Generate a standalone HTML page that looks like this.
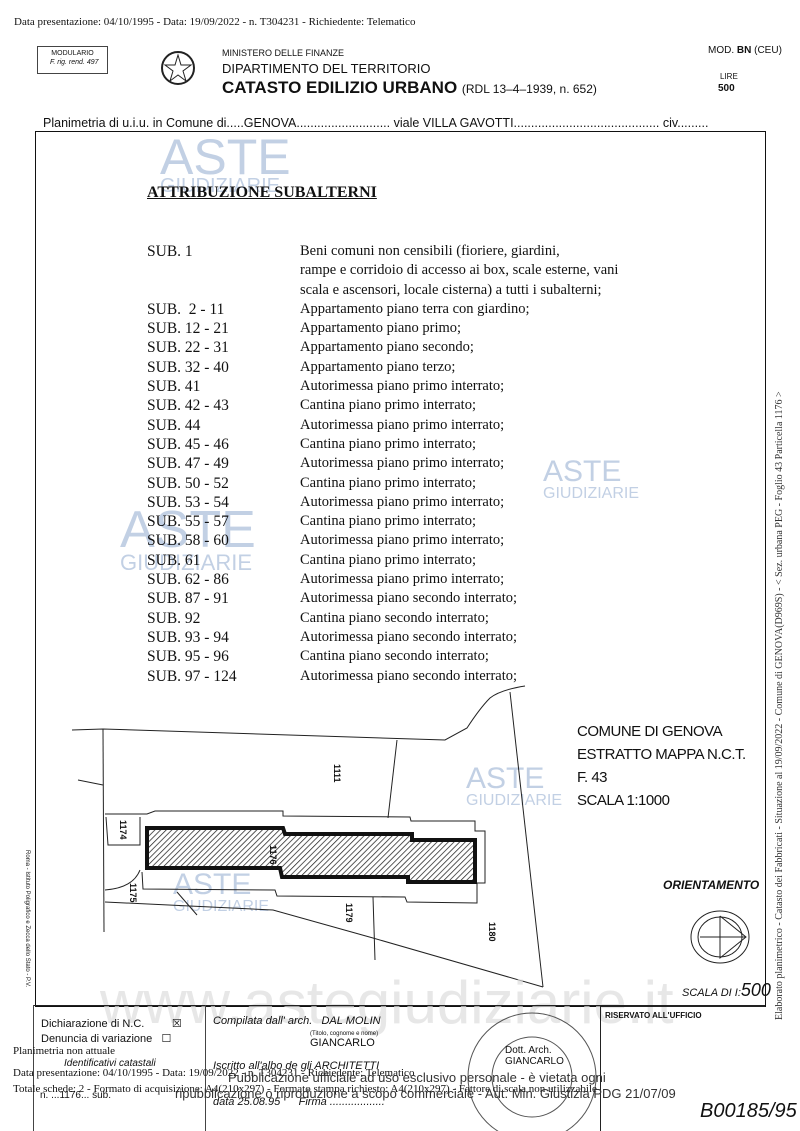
<!DOCTYPE html>
<html><head><meta charset="utf-8"><style>
body{margin:0;width:800px;height:1131px;background:#fff;position:relative;overflow:hidden;font-family:"Liberation Sans",sans-serif;color:#111}
.a{position:absolute;white-space:nowrap}
.s{font-family:"Liberation Serif",serif;font-size:15.5px}
.wm{position:absolute;color:#b8c8e0;font-family:"Liberation Sans",sans-serif;opacity:.85}
.v{position:absolute;font-size:9px;transform:rotate(90deg);transform-origin:0 0;font-weight:bold}
</style></head><body>
<div class="a s" style="left:14px;top:16px;font-size:11px">Data presentazione: 04/10/1995 - Data: 19/09/2022 - n. T304231 - Richiedente: Telematico</div>
<div class="a" style="left:37px;top:46px;width:45px;height:22px;border:1px solid #444;font-size:7px;text-align:center;line-height:9px;padding:2px 12px">MODULARIO<br><i>F. rig. rend. 497</i></div>
<svg class="a" style="left:160px;top:46px" width="36" height="48"><circle cx="18" cy="22" r="16" fill="none" stroke="#222" stroke-width="2"/><polygon points="18,9 21,19 31,19 23,25 26,35 18,29 10,35 13,25 5,19 15,19" fill="none" stroke="#222"/></svg>
<div class="a" style="left:222px;top:48px;font-size:9px">MINISTERO DELLE FINANZE</div>
<div class="a" style="left:222px;top:61px;font-size:13px">DIPARTIMENTO DEL TERRITORIO</div>
<div class="a" style="left:222px;top:78px;font-size:17px;font-weight:bold">CATASTO EDILIZIO URBANO <span style="font-weight:normal;font-size:12px">(RDL 13–4–1939, n. 652)</span></div>
<div class="a" style="left:708px;top:45px;font-size:10px">MOD. <b>BN</b> (CEU)</div>
<div class="a" style="left:720px;top:72px;font-size:8px">LIRE</div>
<div class="a" style="left:718px;top:83px;font-size:10px;font-weight:bold">500</div>
<div class="a" style="left:43px;top:116px;font-size:12.5px">Planimetria di u.i.u. in Comune di.....GENOVA........................... viale VILLA GAVOTTI.......................................... civ.........</div>
<div class="a" style="left:35px;top:131px;width:729px;height:874px;border:1.5px solid #111"></div>
<div class="wm" style="left:160px;top:128px;font-size:50px">ASTE</div><div class="wm" style="left:160px;top:175px;font-size:20px">GIUDIZIARIE</div>
<div class="wm" style="left:120px;top:500px;font-size:52px">ASTE</div><div class="wm" style="left:120px;top:550px;font-size:22px">GIUDIZIARIE</div>
<div class="wm" style="left:543px;top:455px;font-size:30px">ASTE</div><div class="wm" style="left:543px;top:485px;font-size:16px">GIUDIZIARIE</div>
<div class="wm" style="left:466px;top:762px;font-size:30px">ASTE</div><div class="wm" style="left:466px;top:792px;font-size:16px">GIUDIZIARIE</div>
<div class="wm" style="left:173px;top:868px;font-size:30px">ASTE</div><div class="wm" style="left:173px;top:898px;font-size:16px">GIUDIZIARIE</div>
<div class="a s" style="left:147px;top:184px;font-size:16px;font-weight:bold;text-decoration:underline">ATTRIBUZIONE SUBALTERNI</div>
<div class="a s" style="left:147px;top:242px;line-height:19.3px">SUB. 1<br><br><br>SUB.&nbsp;&nbsp;2 - 11<br>SUB. 12 - 21<br>SUB. 22 - 31<br>SUB. 32 - 40<br>SUB. 41<br>SUB. 42 - 43<br>SUB. 44<br>SUB. 45 - 46<br>SUB. 47 - 49<br>SUB. 50 - 52<br>SUB. 53 - 54<br>SUB. 55 - 57<br>SUB. 58 - 60<br>SUB. 61<br>SUB. 62 - 86<br>SUB. 87 - 91<br>SUB. 92<br>SUB. 93 - 94<br>SUB. 95 - 96<br>SUB. 97 - 124</div>
<div class="a s" style="left:300px;top:242px;line-height:19.3px;font-size:14.5px">Beni comuni non censibili (fioriere, giardini,<br>rampe e corridoio di accesso ai box, scale esterne, vani<br>scala e ascensori, locale cisterna) a tutti i subalterni;<br>Appartamento piano terra con giardino;<br>Appartamento piano primo;<br>Appartamento piano secondo;<br>Appartamento piano terzo;<br>Autorimessa piano primo interrato;<br>Cantina piano primo interrato;<br>Autorimessa piano primo interrato;<br>Cantina piano primo interrato;<br>Autorimessa piano primo interrato;<br>Cantina piano primo interrato;<br>Autorimessa piano primo interrato;<br>Cantina piano primo interrato;<br>Autorimessa piano primo interrato;<br>Cantina piano primo interrato;<br>Autorimessa piano primo interrato;<br>Autorimessa piano secondo interrato;<br>Cantina piano secondo interrato;<br>Autorimessa piano secondo interrato;<br>Cantina piano secondo interrato;<br>Autorimessa piano secondo interrato;</div>
<svg class="a" style="left:0;top:0" width="800" height="1131">
<defs><pattern id="h" width="4" height="4" patternUnits="userSpaceOnUse" patternTransform="rotate(45)"><line x1="0" y1="0" x2="0" y2="4" stroke="#222" stroke-width="1.5"/></pattern></defs>
<g fill="none" stroke="#222" stroke-width="1">
<path d="M72 730 L103 729 L445 740 L467 728 Q480 708 490 698 Q500 690 525 686"/>
<path d="M103 729 L104 932"/>
<path d="M78 780 L103 785"/>
<path d="M397 740 L388 818"/>
<path d="M510 692 L543 987"/>
<path d="M105 814 L147 814 L155 811 L283 811 L283 816 L410 817 L411 821 L475 821 L475 831 L485 831 L485 883 L477 883 L477 903 L407 902 L405 897 L277 896 L275 890 L143 889 L142 872"/>
<path d="M106 817 L108 845 L140 845 L140 817"/>
<path d="M105 890 Q133 888 140 870"/>
<path d="M105 902 L273 910 L373 938 L543 987"/>
<path d="M373 897 L375 960"/>
<path d="M177 892 L197 915"/>
<ellipse cx="720" cy="937" rx="29" ry="26"/>
<ellipse cx="720" cy="937" rx="22" ry="20"/>
<path d="M700 937 L746 937 M720 916 L720 958 L746 937 L720 916"/>
</g>
<path d="M147 828 L283 828 L285 834 L412 834 L412 840 L475 840 L475 882 L408 882 L408 877 L282 877 L280 868 L147 868 Z" fill="url(#h)" stroke="#111" stroke-width="4"/>
</svg>
<div class="v" style="left:342px;top:764px">1111</div>
<div class="v" style="left:278px;top:845px">1176</div>
<div class="v" style="left:128px;top:820px">1174</div>
<div class="v" style="left:138px;top:883px">1175</div>
<div class="v" style="left:354px;top:903px">1179</div>
<div class="v" style="left:497px;top:922px">1180</div>
<div class="v" style="left:30px;top:850px;font-size:6px;font-weight:normal">Roma - Istituto Poligrafico e Zecca dello Stato - P.V.</div>
<div class="a" style="left:577px;top:720px;font-size:15px;line-height:23px;letter-spacing:-0.5px">COMUNE DI GENOVA<br>ESTRATTO MAPPA N.C.T.<br>F. 43<br>SCALA 1:1000</div>
<div class="a" style="left:663px;top:878px;font-size:12px;font-style:italic;font-weight:bold">ORIENTAMENTO</div>
<div class="a" style="left:682px;top:980px;font-size:11px;font-style:italic">SCALA DI I:<span style="font-size:18px">500</span></div>
<div class="a s" style="left:774px;top:1020px;font-size:10px;transform:rotate(-90deg);transform-origin:0 0;color:#333">Elaborato planimetrico - Catasto dei Fabbricati - Situazione al 19/09/2022 - Comune di GENOVA(D969S) - &lt; Sez. urbana PEG - Foglio 43 Particella 1176 &gt;</div>
<div class="a" style="left:100px;top:968px;font-size:60px;color:#ddd;opacity:.7">www.astegiudiziarie.it</div>
<div class="a" style="left:33px;top:1005px;width:567px;height:1px;background:#222"></div>
<div class="a" style="left:600px;top:1005px;width:165px;height:2px;background:#222"></div>
<div class="a" style="left:205px;top:1005px;width:1px;height:126px;background:#444"></div>
<div class="a" style="left:33px;top:1005px;width:1px;height:126px;background:#444"></div>
<div class="a" style="left:600px;top:1005px;width:1px;height:126px;background:#222"></div>
<div class="a" style="left:41px;top:1017px;font-size:11px">Dichiarazione di N.C.&nbsp;&nbsp;&nbsp;&nbsp;&nbsp;&nbsp;&nbsp;&nbsp;&nbsp;☒</div>
<div class="a" style="left:41px;top:1032px;font-size:11px">Denuncia di variazione&nbsp;&nbsp;&nbsp;☐</div>
<div class="a" style="left:213px;top:1015px;font-size:11px;font-style:italic">Compilata dall' arch.&nbsp;&nbsp; DAL MOLIN</div>
<div class="a" style="left:310px;top:1031px;font-size:6px">(Titolo, cognome e nome)</div>
<div class="a" style="left:310px;top:1037px;font-size:11px">GIANCARLO</div>
<div class="a" style="left:213px;top:1060px;font-size:11px;font-style:italic">Iscritto all'albo de gli ARCHITETTI</div>
<div class="a" style="left:213px;top:1096px;font-size:11px;font-style:italic">data 25.08.95&nbsp;&nbsp;&nbsp;&nbsp;&nbsp; Firma ..................</div>
<div class="a" style="left:64px;top:1058px;font-size:10px;font-style:italic">Identificativi catastali</div>
<div class="a" style="left:40px;top:1090px;font-size:10px">n. ...1176... sub.</div>
<div class="a" style="left:605px;top:1011px;font-size:8px;font-weight:bold">RISERVATO ALL'UFFICIO</div>
<div class="a" style="left:700px;top:1100px;font-size:20px;font-style:italic">B00185/95</div>
<svg class="a" style="left:460px;top:1005px" width="140" height="126"><circle cx="72" cy="72" r="64" fill="none" stroke="#555"/><circle cx="72" cy="72" r="40" fill="none" stroke="#555"/></svg>
<div class="a" style="left:505px;top:1045px;font-size:10px">Dott. Arch.<br>GIANCARLO</div>
<div class="a s" style="left:13px;top:1045px;font-size:11px">Planimetria non attuale</div>
<div class="a s" style="left:13px;top:1067px;font-size:11px">Data presentazione: 04/10/1995 - Data: 19/09/2022 - n. T304231 - Richiedente: Telematico</div>
<div class="a s" style="left:13px;top:1083px;font-size:11px">Totale schede: 2 - Formato di acquisizione: A4(210x297) - Formato stampa richiesto: A4(210x297) - Fattore di scala non utilizzabile</div>
<div class="a" style="left:228px;top:1070px;font-size:13px;color:#333">Pubblicazione ufficiale ad uso esclusivo personale - è vietata ogni</div>
<div class="a" style="left:175px;top:1086px;font-size:13px;color:#333">ripubblicazione o riproduzione a scopo commerciale - Aut. Min. Giustizia PDG 21/07/09</div>
</body></html>
